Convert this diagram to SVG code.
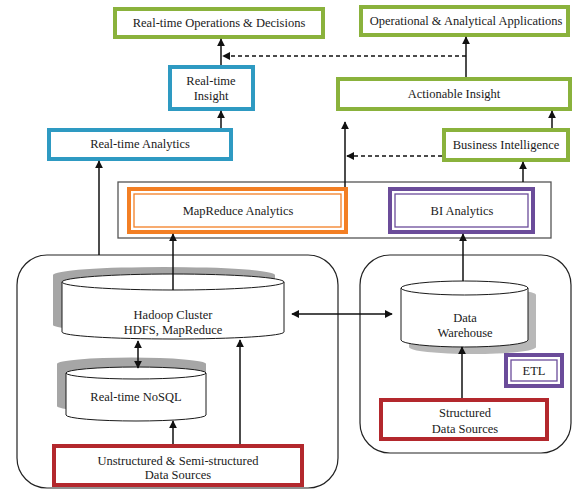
<svg xmlns="http://www.w3.org/2000/svg" width="573" height="490" viewBox="0 0 573 490">
  <style>
    text { font-family: "Liberation Serif", "Times New Roman", serif; font-size: 12.5px; fill: #1a1a1a; text-anchor: middle; }
    .box { fill: #ffffff; stroke-width: 4; }
    .green { stroke: #8AB23C; }
    .blue { stroke: #2E9AC2; }
    .red { stroke: #B3282D; }
    .orange { stroke: #F37F24; }
    .purple { stroke: #6B4C9A; }
    .thin { fill: none; stroke-width: 1.3; }
    .cyl { fill: #ffffff; stroke: #1a1a1a; stroke-width: 1; }
    .shadow { fill: #A6A6A6; stroke: none; }
    .group { fill: none; stroke: #222222; stroke-width: 1.2; }
    .panel { fill: #ffffff; stroke: #555555; stroke-width: 1.3; }
    .arrow { fill: none; stroke: #111111; stroke-width: 1.5; marker-end: url(#head); }
    .both { marker-start: url(#tail); }
    .dash { stroke-dasharray: 4 3; }
  </style>
  <defs>
    <marker id="head" viewBox="0 0 10 10" refX="9" refY="5" markerWidth="8" markerHeight="8" orient="auto" markerUnits="userSpaceOnUse">
      <path d="M0,0 L10,5 L0,10 Z" fill="#111111"/>
    </marker>
    <marker id="tail" viewBox="0 0 10 10" refX="1" refY="5" markerWidth="8" markerHeight="8" orient="auto" markerUnits="userSpaceOnUse">
      <path d="M10,0 L0,5 L10,10 Z" fill="#111111"/>
    </marker>
  </defs>

  <!-- grouping containers -->
  <g id="big-data-zone">
    <rect class="group" x="17" y="255" width="321" height="233" rx="30"/>
  </g>
  <g id="warehouse-zone">
    <rect class="group" x="360" y="255" width="211" height="198" rx="30"/>
  </g>
  <g id="analytics-panel">
    <rect class="panel" x="118" y="182" width="433" height="56"/>
  </g>

  <!-- output layer -->
  <g id="ops-decisions">
    <rect class="box green" x="115" y="9" width="208" height="28"/>
    <text x="219" y="27">Real-time Operations &amp; Decisions</text>
  </g>
  <g id="applications">
    <rect class="box green" x="361" y="7" width="207" height="28"/>
    <text x="466" y="25">Operational &amp; Analytical Applications</text>
  </g>
  <g id="realtime-insight">
    <rect class="box blue" x="170" y="67" width="83" height="42"/>
    <text x="211" y="85">Real-time</text>
    <text x="211" y="100">Insight</text>
  </g>
  <g id="actionable-insight">
    <rect class="box green" x="338" y="79" width="232" height="30"/>
    <text x="454" y="98">Actionable Insight</text>
  </g>
  <g id="realtime-analytics">
    <rect class="box blue" x="49" y="130" width="182" height="29"/>
    <text x="140" y="148">Real-time Analytics</text>
  </g>
  <g id="business-intelligence">
    <rect class="box green" x="444" y="130" width="124" height="30"/>
    <text x="506" y="149">Business Intelligence</text>
  </g>

  <!-- analytics engines -->
  <g id="mapreduce-analytics">
    <rect class="box orange" x="129" y="189" width="217" height="43"/>
    <rect class="thin orange" x="134" y="194" width="207" height="33"/>
    <text x="238" y="215">MapReduce Analytics</text>
  </g>
  <g id="bi-analytics">
    <rect class="box purple" x="390" y="189" width="143" height="43"/>
    <rect class="thin purple" x="395" y="194" width="133" height="33"/>
    <text x="462" y="215">BI Analytics</text>
  </g>

  <!-- data stores -->
  <g id="hadoop-cluster">
    <path class="shadow" d="M53,275 A111,8 0 0 1 275,275 L275,325 A111,7 0 0 1 53,325 Z"/>
    <path class="cyl" d="M62,282 L62,332 A111,7 0 0 0 284,332 L284,282 Z"/>
    <ellipse class="cyl" cx="173" cy="282" rx="111" ry="8"/>
    <text x="173" y="319">Hadoop Cluster</text>
    <text x="173" y="334">HDFS, MapReduce</text>
  </g>
  <g id="realtime-nosql">
    <path class="shadow" d="M57,364 A70,6 0 0 1 206,364 L206,406 A70,6 0 0 1 57,406 Z"/>
    <path class="cyl" d="M66,373 L66,415 A70,6 0 0 0 206,415 L206,373 Z"/>
    <ellipse class="cyl" cx="136" cy="373" rx="70" ry="6"/>
    <text x="136" y="401">Real-time NoSQL</text>
  </g>
  <g id="data-warehouse">
    <path class="shadow" d="M409,295 A63.5,7 0 0 1 536,295 L536,347 A63.5,7 0 0 1 409,347 Z" fill-opacity="0.8"/>
    <path class="cyl" d="M401,288 L401,340 A63.5,7 0 0 0 528,340 L528,288 Z"/>
    <ellipse class="cyl" cx="464.5" cy="288" rx="63.5" ry="7"/>
    <text x="465" y="322">Data</text>
    <text x="465" y="337">Warehouse</text>
  </g>
  <g id="etl">
    <rect class="box purple" x="506" y="355" width="56" height="31"/>
    <rect class="thin purple" x="511" y="360" width="46" height="21"/>
    <text x="534" y="375">ETL</text>
  </g>

  <!-- sources -->
  <g id="unstructured-sources">
    <rect class="box red" x="54" y="446" width="248" height="39"/>
    <text x="178" y="465">Unstructured &amp; Semi-structured</text>
    <text x="178" y="479">Data Sources</text>
  </g>
  <g id="structured-sources">
    <rect class="box red" x="381" y="400" width="166" height="39"/>
    <text x="465" y="417">Structured</text>
    <text x="465" y="433">Data Sources</text>
  </g>

  <!-- connectors -->
  <g id="connectors">
    <path class="arrow" d="M221,65 L221,39"/>
    <path class="arrow" d="M466,77 L466,37"/>
    <path class="arrow dash" d="M466,56 L223,56"/>
    <path class="arrow" d="M221,128 L221,111"/>
    <path class="arrow" d="M552,128 L552,111"/>
    <path class="arrow dash" d="M442,156 L347,156"/>
    <path class="arrow" d="M345,187 L345,122"/>
    <path class="arrow" d="M523,182 L523,162"/>
    <path class="arrow" d="M99,255 L99,161"/>
    <path class="arrow" d="M173,290 L173,234"/>
    <path class="arrow" d="M463,281 L463,234"/>
    <path class="arrow both" d="M292,314 L392,314"/>
    <path class="arrow both" d="M138,341 L138,368"/>
    <path class="arrow" d="M240,444 L240,340"/>
    <path class="arrow" d="M173,444 L173,421"/>
    <path class="arrow" d="M462,398 L462,347"/>
  </g>
</svg>
